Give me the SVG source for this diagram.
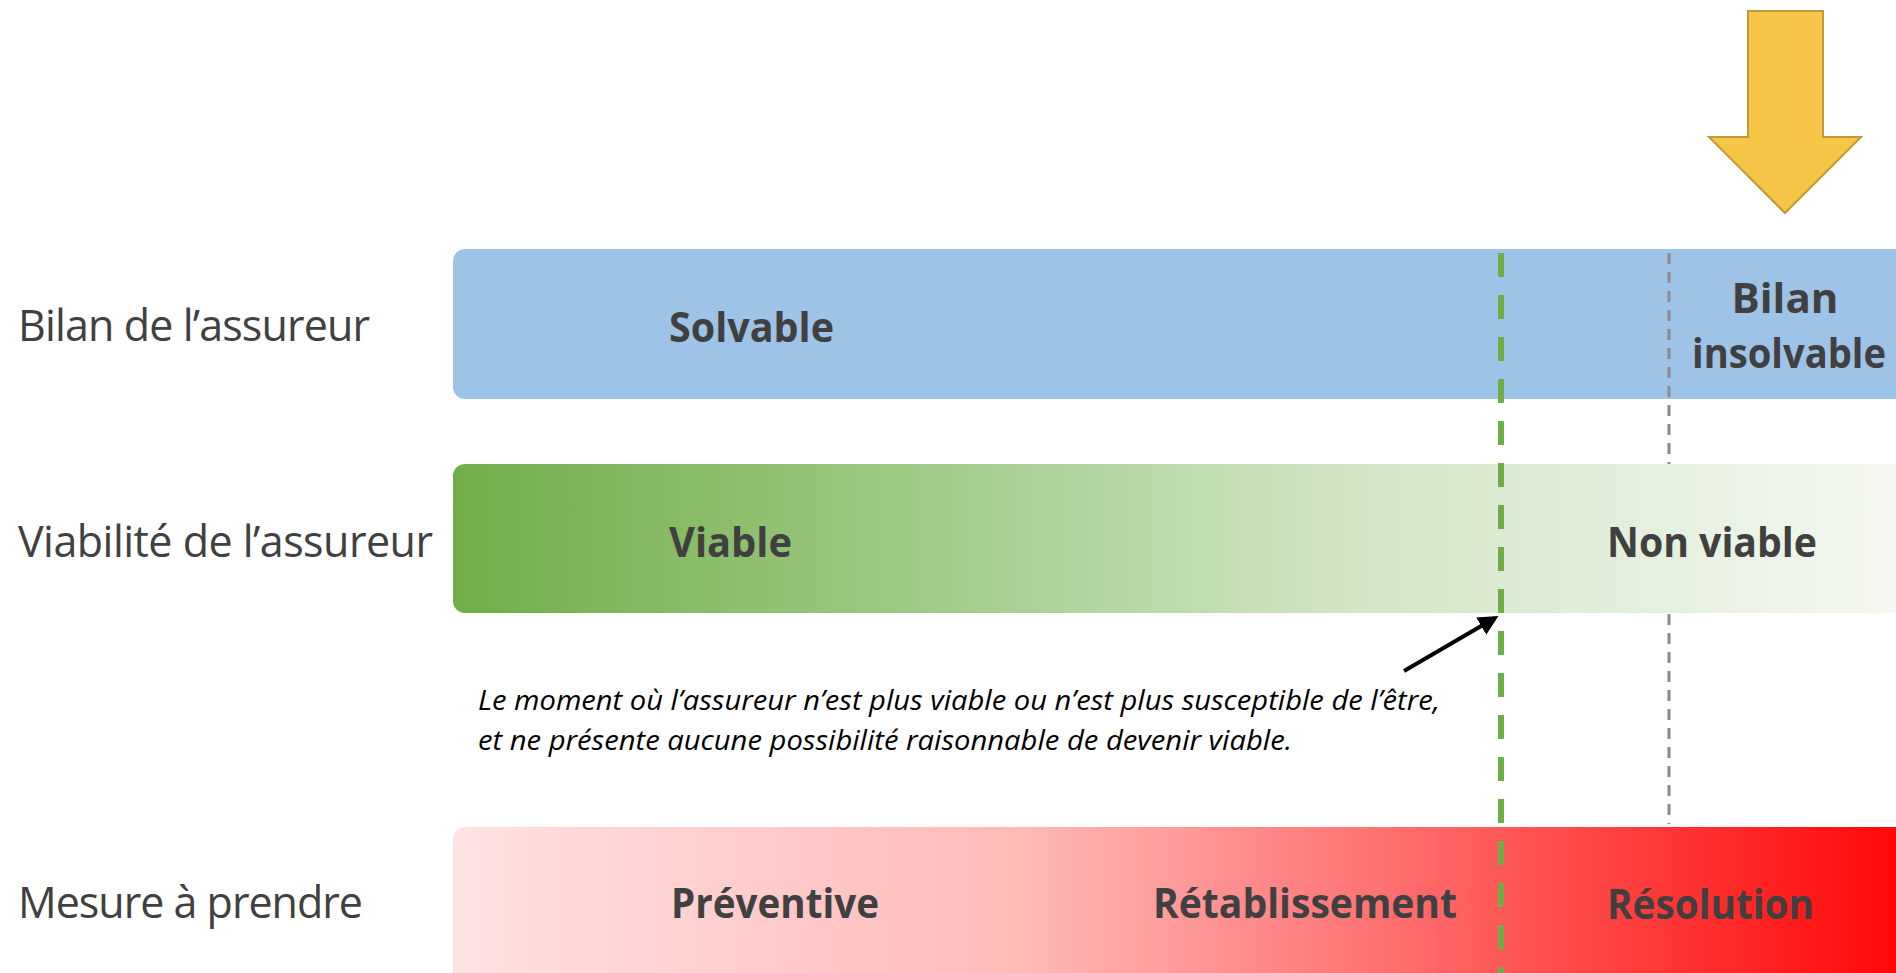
<svg xmlns="http://www.w3.org/2000/svg" width="1896" height="973" viewBox="0 0 1896 973">
  <style>
    .row { font-family: "Open Sans", "Liberation Sans", sans-serif; font-size: 43px; fill: #404040; }
    .lbl { font-family: "Open Sans", "Liberation Sans", sans-serif; font-size: 42px; font-weight: bold; fill: #404040; }
    .note { font-family: "Open Sans", "Liberation Sans", sans-serif; font-size: 27px; font-style: italic; fill: #000000; }
  </style>
  <defs>
    <linearGradient id="gGreen" x1="453" y1="0" x2="1896" y2="0" gradientUnits="userSpaceOnUse">
      <stop offset="0" stop-color="#70AD47"/>
      <stop offset="0.3" stop-color="#9CC882"/>
      <stop offset="0.62" stop-color="#D2E5C6"/>
      <stop offset="1" stop-color="#F4F8F1"/>
    </linearGradient>
    <linearGradient id="gRed" x1="453" y1="0" x2="1896" y2="0" gradientUnits="userSpaceOnUse">
      <stop offset="0" stop-color="#FFE2E2"/>
      <stop offset="0.4" stop-color="#FFB8B8"/>
      <stop offset="0.72" stop-color="#FF5A5A"/>
      <stop offset="1" stop-color="#FF0808"/>
    </linearGradient>
    <marker id="ah" markerWidth="5" markerHeight="5" refX="4" refY="2.5" orient="auto" markerUnits="strokeWidth">
      <path d="M0,0 L5,2.5 L0,5 Z" fill="#000000"/>
    </marker>
  </defs>
  <rect width="1896" height="973" fill="#FFFFFF"/>

  <g id="row-labels">
    <text class="row" x="18" y="341" textLength="352">Bilan de l’assureur</text>
    <text class="row" x="18" y="557" textLength="415">Viabilité de l’assureur</text>
    <text class="row" x="18" y="918" textLength="345">Mesure à prendre</text>
  </g>

  <g id="bilan-bar">
    <rect x="453" y="249" width="1480" height="150" rx="12" fill="#9DC3E6"/>
    <text class="lbl" x="669" y="342" textLength="165" lengthAdjust="spacingAndGlyphs">Solvable</text>
    <text class="lbl" x="1785" y="313" text-anchor="middle">Bilan</text>
    <text class="lbl" x="1789" y="368" text-anchor="middle" textLength="194" lengthAdjust="spacingAndGlyphs">insolvable</text>
  </g>

  <g id="insolvency-line">
    <line x1="1669" y1="253" x2="1669" y2="824" stroke="#8A8A8A" stroke-width="3" stroke-dasharray="11 8"/>
  </g>

  <g id="viabilite-bar">
    <rect x="453" y="464" width="1480" height="149" rx="12" fill="url(#gGreen)"/>
    <text class="lbl" x="669" y="557" textLength="123" lengthAdjust="spacingAndGlyphs">Viable</text>
    <text class="lbl" x="1607" y="557" textLength="210" lengthAdjust="spacingAndGlyphs">Non viable</text>
  </g>

  <g id="mesure-bar">
    <rect x="453" y="827" width="1480" height="160" rx="12" fill="url(#gRed)"/>
    <text class="lbl" x="671" y="918" textLength="208" lengthAdjust="spacingAndGlyphs">Préventive</text>
    <text class="lbl" x="1153" y="918" textLength="304" lengthAdjust="spacingAndGlyphs">Rétablissement</text>
    <text class="lbl" x="1607" y="919" textLength="207" lengthAdjust="spacingAndGlyphs">Résolution</text>
  </g>

  <g id="note">
    <text class="note" x="478" y="710" textLength="962" lengthAdjust="spacingAndGlyphs">Le moment où l’assureur n’est plus viable ou n’est plus susceptible de l’être,</text>
    <text class="note" x="478" y="750" textLength="814" lengthAdjust="spacingAndGlyphs">et ne présente aucune possibilité raisonnable de devenir viable.</text>
  </g>

  <g id="yellow-arrow">
    <polygon points="1748,11 1823,11 1823,137 1861,137 1785,213 1709,137 1748,137" fill="#F7C548" stroke="#BF9A37" stroke-width="2" stroke-linejoin="miter"/>
  </g>

  <g id="connectors">
    <line x1="1501" y1="253" x2="1501" y2="973" stroke="#70AD47" stroke-width="6" stroke-dasharray="24 18"/>
    <line x1="1404" y1="671" x2="1495" y2="618" stroke="#000000" stroke-width="4" marker-end="url(#ah)"/>
  </g>
</svg>
